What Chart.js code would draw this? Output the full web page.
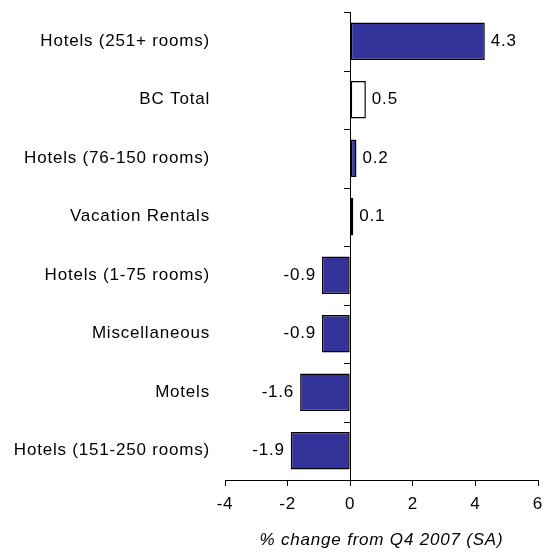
<!DOCTYPE html>
<html>
<head>
<meta charset="utf-8">
<script src="https://cdn.jsdelivr.net/npm/chart.js@4.4.0/dist/chart.umd.min.js"></script>
<style>
html,body{margin:0;padding:0;background:#fff;}
#wrap{width:545px;height:554px;}
</style>
</head>
<body>
<div id="wrap"><canvas id="c" width="545" height="554"></canvas></div>
<script>
const categories = ["Hotels (251+ rooms)","BC Total","Hotels (76-150 rooms)","Vacation Rentals","Hotels (1-75 rooms)","Miscellaneous","Motels","Hotels (151-250 rooms)"];
const values = [4.3, 0.5, 0.2, 0.1, -0.9, -0.9, -1.6, -1.9];
const xTicks = [-4, -2, 0, 2, 4, 6];
const axisTitle = "% change from Q4 2007 (SA)";
const highlight = "BC Total";

const FONT = "'Liberation Sans', Arial, sans-serif";

const fills = categories.map(c => c === highlight ? "#ffffff" : "#333399");

const overlay = {
  id: 'overlay',
  beforeDraw(chart) {
    chart.ctx.letterSpacing = '0.8px';
  },
  afterDatasetsDraw(chart) {
    const ctx = chart.ctx;
    const xs = chart.scales.x, ys = chart.scales.y;
    const x0 = xs.getPixelForValue(0);
    const area = chart.chartArea;
    ctx.save();
    ctx.strokeStyle = "#000";
    ctx.lineWidth = 1;
    ctx.beginPath();
    ctx.moveTo(Math.round(x0) + 0.5, area.top);
    ctx.lineTo(Math.round(x0) + 0.5, area.bottom);
    ctx.stroke();
    const n = categories.length;
    const step = (area.bottom - area.top) / n;
    ctx.beginPath();
    for (let i = 0; i < n; i++) {
      const y = Math.round(ys.getPixelForValue(i) - step / 2) + 0.5;
      ctx.moveTo(Math.round(x0) - 6, y);
      ctx.lineTo(Math.round(x0) + 0.5, y);
    }
    ctx.stroke();
    ctx.fillStyle = "#000";
    ctx.font = "17px " + FONT;
    ctx.textBaseline = "middle";
    const meta = chart.getDatasetMeta(0);
    meta.data.forEach((bar, i) => {
      const v = values[i];
      const txt = v.toFixed(1);
      if (v >= 0) {
        ctx.textAlign = "left";
        ctx.fillText(txt, bar.x + 6, bar.y);
      } else {
        ctx.textAlign = "right";
        ctx.fillText(txt, bar.x - 6, bar.y);
      }
    });
    ctx.restore();
  }
};

new Chart(document.getElementById('c'), {
  type: 'bar',
  data: {
    labels: categories,
    datasets: [{
      data: values,
      backgroundColor: fills,
      borderColor: "#000",
      borderWidth: 1.5,
      borderSkipped: false,
      categoryPercentage: 1,
      barPercentage: 0.64
    }]
  },
  options: {
    indexAxis: 'y',
    responsive: false,
    animation: false,
    devicePixelRatio: 1,
    layout: { padding: { top: 12, right: 7, left: 0, bottom: 0 } },
    plugins: { legend: { display: false }, tooltip: { enabled: false } },
    scales: {
      x: {
        type: 'linear',
        min: -4, max: 6,
        afterBuildTicks: s => { s.ticks = xTicks.map(v => ({ value: v })); },
        afterFit: s => { s.height = 74; s.paddingLeft = 0; s.paddingRight = 0; },
        grid: { display: true, drawOnChartArea: false, drawTicks: true, tickLength: 6, color: "#000", tickColor: "#000" },
        border: { display: true, color: "#000", width: 1 },
        ticks: { color: "#000", font: { family: FONT, size: 17 }, padding: 8, maxRotation: 0 },
        title: { display: true, text: axisTitle, color: "#000", font: { family: FONT, size: 17, style: 'italic' }, padding: { top: 0, bottom: 4 } }
      },
      y: {
        afterFit: s => { s.width = 225; s.paddingTop = 0; s.paddingBottom = 0; },
        grid: { display: false, drawTicks: false },
        border: { display: false },
        ticks: { color: "#000", font: { family: FONT, size: 17 }, padding: 15, autoSkip: false }
      }
    }
  },
  plugins: [overlay]
});
</script>
</body>
</html>
